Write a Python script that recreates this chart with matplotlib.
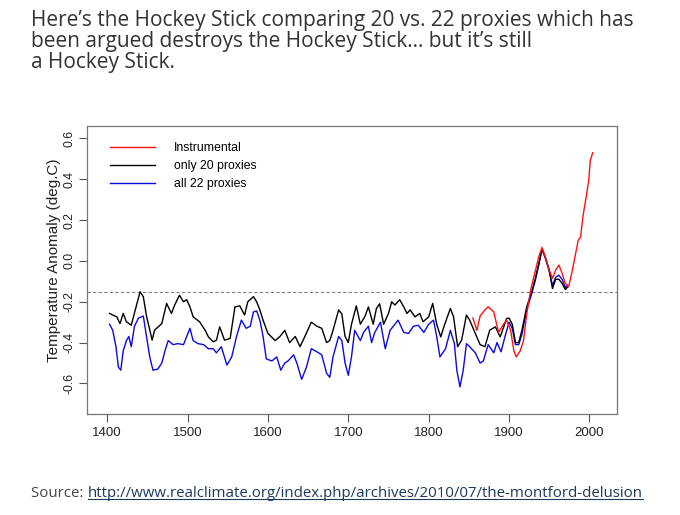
import matplotlib
matplotlib.use("Agg")
import matplotlib.pyplot as plt
from matplotlib.lines import Line2D

# values
black_years = [1403, 1407, 1412, 1416, 1420, 1424, 1430, 1437, 1441, 1445, 1449, 1456, 1459, 1468,
               1474, 1476, 1480, 1484, 1490, 1495, 1499, 1503, 1507, 1515, 1522, 1526, 1532, 1536,
               1540, 1546, 1553, 1559, 1565, 1571, 1575, 1582, 1586, 1590, 1594, 1600, 1609, 1615,
               1621, 1627, 1634, 1640, 1646, 1654, 1661, 1667, 1673, 1677, 1681, 1688, 1692, 1696,
               1700, 1704, 1710, 1715, 1721, 1725, 1731, 1735, 1739, 1744, 1750, 1754, 1758, 1764,
               1769, 1773, 1777, 1783, 1789, 1793, 1800, 1805, 1810, 1815, 1820, 1827, 1831, 1836,
               1841, 1847, 1851, 1858, 1864, 1870, 1876, 1883, 1889, 1897, 1900, 1904, 1908, 1912,
               1916, 1922, 1929, 1933, 1937, 1941, 1945, 1950, 1954, 1958, 1962, 1966, 1970, 1973]
black_vals = [-0.257, -0.265, -0.274, -0.307, -0.257, -0.298, -0.315, -0.21, -0.151, -0.175, -0.27,
              -0.388, -0.339, -0.307, -0.208, -0.225, -0.257, -0.216, -0.168, -0.20, -0.19, -0.225,
              -0.274, -0.298, -0.34, -0.372, -0.396, -0.388, -0.323, -0.388, -0.38, -0.225, -0.22,
              -0.265, -0.20, -0.175, -0.20, -0.24, -0.29, -0.355, -0.39, -0.37, -0.34, -0.40, -0.37,
              -0.42, -0.37, -0.30, -0.32, -0.33, -0.40, -0.39, -0.34, -0.24, -0.26, -0.37, -0.40,
              -0.31, -0.22, -0.31, -0.27, -0.225, -0.31, -0.233, -0.21, -0.31, -0.257, -0.20, -0.216,
              -0.19, -0.225, -0.257, -0.24, -0.274, -0.257, -0.298, -0.274, -0.208, -0.31, -0.372,
              -0.31, -0.233, -0.274, -0.42, -0.388, -0.265, -0.29, -0.355, -0.41, -0.42, -0.339,
              -0.323, -0.372, -0.282, -0.28, -0.31, -0.40, -0.40, -0.34, -0.225, -0.14, -0.08,
              -0.013, 0.06, 0.02, -0.045, -0.135, -0.09, -0.09, -0.11, -0.14, -0.127]

blue_years = [1403, 1407, 1411, 1414, 1417, 1420, 1424, 1427, 1430, 1434, 1439, 1445, 1449, 1453,
              1457, 1463, 1468, 1472, 1476, 1482, 1488, 1495, 1499, 1503, 1507, 1513, 1520, 1526,
              1532, 1536, 1542, 1549, 1555, 1561, 1567, 1573, 1578, 1582, 1586, 1590, 1594, 1598,
              1605, 1611, 1616, 1621, 1625, 1632, 1636, 1642, 1648, 1654, 1661, 1667, 1673, 1677,
              1681, 1688, 1692, 1696, 1700, 1704, 1708, 1715, 1719, 1725, 1729, 1733, 1740, 1746,
              1752, 1758, 1762, 1769, 1775, 1781, 1787, 1794, 1800, 1806, 1810, 1814, 1821, 1827,
              1832, 1835, 1839, 1843, 1847, 1851, 1858, 1864, 1868, 1874, 1881, 1885, 1890, 1895,
              1900, 1904, 1908, 1912, 1916, 1922, 1929, 1933, 1937, 1941, 1945, 1950, 1954, 1958,
              1962, 1966, 1970, 1973]
blue_vals = [-0.31, -0.34, -0.42, -0.52, -0.535, -0.44, -0.39, -0.37, -0.42, -0.32, -0.28, -0.27,
             -0.37, -0.47, -0.535, -0.53, -0.50, -0.44, -0.39, -0.41, -0.405, -0.41, -0.37, -0.33,
             -0.39, -0.405, -0.41, -0.43, -0.43, -0.45, -0.42, -0.51, -0.47, -0.37, -0.29, -0.33,
             -0.32, -0.25, -0.245, -0.29, -0.37, -0.48, -0.49, -0.47, -0.535, -0.50, -0.49, -0.46,
             -0.50, -0.58, -0.52, -0.43, -0.445, -0.46, -0.55, -0.57, -0.47, -0.37, -0.39, -0.50,
             -0.56, -0.47, -0.34, -0.39, -0.35, -0.32, -0.40, -0.35, -0.30, -0.43, -0.34, -0.31,
             -0.29, -0.35, -0.355, -0.32, -0.315, -0.35, -0.31, -0.29, -0.37, -0.47, -0.43, -0.34,
             -0.405, -0.535, -0.617, -0.535, -0.405, -0.42, -0.45, -0.50, -0.49, -0.41, -0.45, -0.40,
             -0.445, -0.37, -0.30, -0.33, -0.41, -0.41, -0.36, -0.24, -0.15, -0.09, -0.02, 0.055,
             0.015, -0.05, -0.12, -0.08, -0.07, -0.09, -0.13, -0.12]

red_years = [1855, 1860, 1864, 1870, 1874, 1881, 1887, 1893, 1897, 1902, 1906, 1909, 1914,
             1918, 1922, 1927, 1932, 1937, 1941, 1945, 1950, 1954, 1958, 1962, 1966, 1970, 1974,
             1978, 1982, 1986, 1989, 1992, 1996, 1999, 2001, 2004]
red_vals = [-0.28, -0.34, -0.27, -0.24, -0.225, -0.25, -0.35, -0.31, -0.29, -0.34, -0.44,
            -0.47, -0.44, -0.39, -0.26, -0.14, -0.06, 0.02, 0.066, 0.02, -0.045, -0.085, -0.045,
            -0.02, -0.06, -0.11, -0.127, -0.06, 0.02, 0.10, 0.117, 0.22, 0.315, 0.39, 0.49, 0.53]

ref_level = -0.15
x_ticks = [1400, 1500, 1600, 1700, 1800, 1900, 2000]
y_ticks = [-0.6, -0.4, -0.2, 0.0, 0.2, 0.4, 0.6]

title = ("Here\u2019s the Hockey Stick comparing 20 vs. 22 proxies which has\n"
         "been argued destroys the Hockey Stick\u2026 but it\u2019s still\n"
         "a Hockey Stick.")
source_url = "http://www.realclimate.org/index.php/archives/2010/07/the-montford-delusion"

plt.rcParams["font.family"] = ["Liberation Sans", "DejaVu Sans"]

fig = plt.figure(figsize=(6.8, 5.15), dpi=100)
ax = fig.add_axes([0.128, 0.196, 0.779, 0.559])

ax.plot(blue_years, blue_vals, color="#0a0ae0", lw=1.0, label="all 22 proxies", zorder=2)
ax.plot(black_years, black_vals, color="black", lw=1.0, label="only 20 proxies", zorder=3)
ax.plot(red_years, red_vals, color="#ff1010", lw=1.0, label="Instrumental", zorder=4)
ax.axhline(ref_level, color="#808080", lw=0.8, ls=(0, (3, 2)), zorder=1)

ax.set_xlim(1375, 2034)
ax.set_ylim(-0.75, 0.66)
ax.set_xticks(x_ticks)
ax.set_yticks(y_ticks)
ax.set_yticklabels([f"{v:.1f}" for v in y_ticks], rotation=90, va="center")
ax.tick_params(direction="out", length=6, width=0.8, color="#555555",
               labelcolor="#222222", pad=3)
ax.tick_params(axis="x", labelsize=9.5)
ax.tick_params(axis="y", labelsize=8.8, pad=2)
ax.set_ylabel("Temperature Anomaly (deg.C)", fontsize=11, color="#222222")
ax.yaxis.set_label_coords(-0.05, 0.536)
for s in ax.spines.values():
    s.set_color("#777777")
    s.set_linewidth(0.9)

h, l = ax.get_legend_handles_labels()
order = [2, 1, 0]
ax.legend([h[i] for i in order], [l[i] for i in order], loc="upper left",
          bbox_to_anchor=(0.031, 0.967), frameon=False, fontsize=8.8,
          handlelength=3.7, handletextpad=1.6, labelspacing=0.5, borderpad=0)

fig.text(0.046, 0.981, title, ha="left", va="top", fontsize=15, color="#333333",
         family="Open Sans", linespacing=1.0)

t1 = fig.text(0.046, 0.035, "Source: ", ha="left", va="baseline", fontsize=10.82,
              color="#444444", family="Open Sans")
fig.canvas.draw()
r = fig.canvas.get_renderer()
bb = t1.get_window_extent(r)
x_link = bb.x1 / fig.bbox.width
t2 = fig.text(x_link, 0.035, source_url, ha="left", va="baseline", fontsize=10.82,
              color="#1d3a5c", family="Open Sans")
fig.canvas.draw()
bb2 = t2.get_window_extent(r)
uy = 0.035 - 2.5 / fig.bbox.height
fig.add_artist(Line2D([bb2.x0 / fig.bbox.width, bb2.x1 / fig.bbox.width], [uy, uy],
                      color="#1d3a5c", lw=0.8))

fig.savefig("out.png", dpi=100)
